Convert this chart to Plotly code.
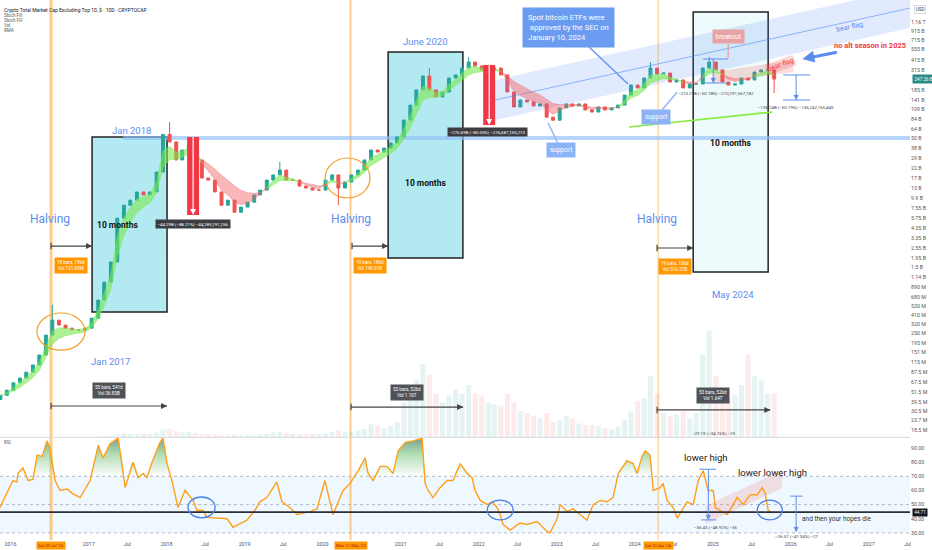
import math
import datetime as dt
import pandas as pd
import plotly.graph_objects as go

FONT = "Roboto, Arial, sans-serif"
BLUE = "#5b8def"

# ---------------- DATA ----------------
# monthly candles (10D bars condensed), Nov 2015 .. Oct 2025, values in billions USD
months = pd.date_range("2015-11-01", periods=120, freq="MS") + pd.Timedelta(days=14)
first_open_b = 0.042
close_2015_2016 = [0.047, 0.054, 0.066, 0.075, 0.088, 0.107, 0.14, 0.24, 0.36, 0.315, 0.29, 0.276, 0.276, 0.29]
close_2017 = [0.38, 0.62, 1.01, 1.74, 5.7, 8.1, 9.3, 11.6, 10.7, 11.6, 19.9, 55]
close_2018 = [45, 27.6, 36.1, 41.4, 27.6, 16.9, 16.0, 11.6, 8.1, 9.3, 6.7, 7.7]
close_2019 = [8.8, 10.7, 12.2, 16.0, 18.4, 21.0, 16.0, 16.0, 13.6, 12.9, 12.2, 12.2]
close_2020 = [16.0, 18.4, 12.9, 15.2, 18.4, 21.0, 27.6, 36.1, 34.2, 38.1, 43.7, 51.4]
close_2021 = [81.4, 122, 184, 268, 184, 152, 174, 254, 276, 333, 392, 352]
close_2022 = [316, 316, 333, 276, 174, 116, 140, 133, 119, 126, 88, 81]
close_2023 = [113, 126, 119, 126, 107, 101, 116, 107, 113, 122, 160, 210]
close_2024 = [194, 254, 333, 283, 291, 228, 241, 194, 216, 216, 333, 392]
close_2025 = [316, 228, 210, 216, 254, 241, 299, 316, 316, 247]
high_override_b = {"2016-07": 0.543, "2018-01": 77, "2019-06": 26.1, "2021-05": 333,
                   "2021-11": 449, "2024-03": 392, "2024-12": 449}
low_override_b = {"2020-03": 8.1, "2025-10": 169}

vol_2015_2016 = [0.1, 0.1, 0.1, 0.2, 0.2, 0.2, 0.3, 0.5, 0.4, 0.3, 0.3, 0.3, 0.3, 0.4]
vol_2017 = [0.6, 0.8, 1.2, 1.8, 3.5, 4.5, 3.5, 3.5, 4.5, 3.5, 5.5, 9]
vol_2018 = [10, 7, 6, 6, 5, 3.5, 3.5, 3, 2.5, 2.5, 3, 2.5]
vol_2019 = [2.5, 2.5, 3, 4, 5.5, 6.5, 5, 4, 3.5, 3.5, 3.5, 3.5]
vol_2020 = [4.5, 6.5, 8.5, 6.5, 6.5, 7.5, 9.5, 15, 13, 10, 13, 17]
vol_2021 = [40, 60, 66, 84, 72, 50, 40, 48, 55, 50, 60, 50]
vol_2022 = [48, 40, 38, 36, 50, 40, 30, 28, 25, 22, 28, 18]
vol_2023 = [20, 25, 22, 16, 14, 14, 13, 11, 10, 12, 20, 30]
vol_2024 = [42, 45, 70, 50, 28, 24, 26, 30, 22, 28, 95, 122]
vol_2025 = [70, 55, 45, 48, 60, 95, 70, 65, 50, 50]

rsi_dates = ["2015-11-13", "2015-12-15",
             "2016-01-12", "2016-01-31", "2016-02-05", "2016-02-28", "2016-03-24", "2016-04-16", "2016-05-05",
             "2016-05-28", "2016-06-20", "2016-07-04", "2016-07-28", "2016-08-20", "2016-09-22", "2016-10-16", "2016-11-22",
             "2017-01-08", "2017-02-15", "2017-03-10", "2017-04-11", "2017-05-19", "2017-06-21", "2017-07-28",
             "2017-08-20", "2017-09-13", "2017-10-01", "2017-10-25", "2017-12-01", "2017-12-15",
             "2018-01-03", "2018-01-26", "2018-02-23", "2018-03-28", "2018-05-05", "2018-05-23", "2018-06-21",
             "2018-07-09", "2018-08-25", "2018-10-11", "2018-11-08",
             "2019-01-12", "2019-02-19", "2019-03-13", "2019-04-15", "2019-06-01", "2019-06-25", "2019-08-01",
             "2019-09-03", "2019-11-03", "2019-12-06",
             "2020-01-12", "2020-02-19", "2020-04-06", "2020-05-09", "2020-06-16", "2020-07-18", "2020-08-01",
             "2020-08-25", "2020-09-27", "2020-10-29", "2020-11-26", "2020-12-20",
             "2021-01-22", "2021-02-28", "2021-04-11", "2021-04-25", "2021-05-09", "2021-06-01", "2021-07-04",
             "2021-08-06", "2021-09-03", "2021-10-06", "2021-11-08", "2021-12-01", "2021-12-15",
             "2022-01-08", "2022-02-10", "2022-03-05", "2022-03-28", "2022-04-11", "2022-04-25", "2022-05-28",
             "2022-07-14", "2022-08-15", "2022-10-01", "2022-11-17", "2022-12-01",
             "2023-01-03", "2023-01-17", "2023-02-19", "2023-03-19", "2023-04-20", "2023-05-23", "2023-06-21",
             "2023-07-23", "2023-08-25", "2023-09-22", "2023-10-16", "2023-11-26", "2023-12-25",
             "2024-01-12", "2024-02-05", "2024-02-19", "2024-03-13", "2024-03-28", "2024-04-29", "2024-05-13",
             "2024-06-01", "2024-06-29", "2024-07-18", "2024-09-03", "2024-10-01", "2024-10-25", "2024-11-17", "2024-12-10",
             "2025-01-03", "2025-01-12", "2025-03-10", "2025-04-25", "2025-05-23", "2025-06-25", "2025-07-28",
             "2025-08-20", "2025-09-03", "2025-09-17", "2025-10-01"]
rsi_vals = [48, 58,
            67, 66, 72, 76, 67, 68, 85, 84, 95, 90, 67, 60, 61, 58, 55,
            67, 92, 83, 93, 97, 62, 80, 69, 72, 69, 80, 94, 97,
            79, 67, 48, 60, 53, 46, 46, 41, 40.5, 40, 34,
            39, 46, 52, 55, 66, 52, 48, 43, 45, 47,
            67, 43, 60, 65, 74, 83, 72, 67, 77, 77, 72, 88,
            94, 95, 97, 65, 60, 55, 62, 67, 67, 79, 72, 69, 60,
            53, 50, 52, 48, 43, 36, 32, 37, 36, 38, 31, 30,
            40, 50, 45, 47, 43, 39, 50, 53, 52, 55, 72, 81, 79,
            72, 84, 88, 85, 60, 62, 65, 53, 48, 40.5, 52, 50, 67, 74, 60,
            60, 48, 43, 55, 50, 57, 57, 62, 58, 46, 44.7]
rsi_last = 44.7

price_tick_text = ["1.16 T", "915 B", "715 B", "555 B", "415 B", "315 B", "185 B", "141 B", "109 B",
                   "84 B", "64 B", "50 B", "38 B", "29 B", "22 B", "17 B", "13 B", "9.9 B", "7.55 B", "5.75 B",
                   "4.35 B", "3.35 B", "2.55 B", "1.95 B", "1.5 B", "1.14 B", "890 M", "680 M", "530 M", "410 M",
                   "320 M", "250 M", "195 M", "151 M", "115 M", "87.5 M", "67.5 M", "51.5 M", "39.5 M", "30.5 M",
                   "23.7 M", "18.5 M"]
price_tick_vals = [1.16e12, 915e9, 715e9, 555e9, 415e9, 315e9, 185e9, 141e9, 109e9,
                   84e9, 64e9, 50e9, 38e9, 29e9, 22e9, 17e9, 13e9, 9.9e9, 7.55e9, 5.75e9,
                   4.35e9, 3.35e9, 2.55e9, 1.95e9, 1.5e9, 1.14e9, 890e6, 680e6, 530e6, 410e6,
                   320e6, 250e6, 195e6, 151e6, 115e6, 87.5e6, 67.5e6, 51.5e6, 39.5e6, 30.5e6,
                   23.7e6, 18.5e6]
rsi_tick_vals = [30, 40, 50, 60, 70, 80, 90]
rsi_tick_text = ["30.00", "40.00", "50.00", "60.00", "70.00", "80.00", "90.00"]

x_tick_dates = ["2016-01-01", "2017-01-01", "2017-07-01", "2018-01-01", "2018-07-01", "2019-01-01",
                "2019-07-01", "2020-01-01", "2021-01-01", "2021-07-01", "2022-01-01", "2022-07-01",
                "2023-01-01", "2023-07-01", "2024-01-01", "2024-07-01", "2025-01-01", "2025-07-01",
                "2026-01-01", "2026-07-01", "2027-01-01", "2027-07-01"]
x_tick_text = ["2016", "2017", "Jul", "2018", "Jul", "2019", "Jul", "2020", "2021", "Jul", "2022", "Jul",
               "2023", "Jul", "2024", "Jul", "2025", "Jul", "2026", "Jul", "2027", "Jul"]

halving_dates = ["2016-07-09", "2020-05-11", "2024-04-20"]
halving_text = ["Sat 09 Jul '16", "Mon 11 May '20", "Sat 20 Apr '24"]

# ---------------- helpers ----------------
def yr(f):
    y = int(f)
    a = dt.datetime(y, 1, 1)
    b = dt.datetime(y + 1, 1, 1)
    return (a + (b - a) * (f - y)).strftime("%Y-%m-%d")

L = math.log10
B = 1e9

close_b = (close_2015_2016 + close_2017 + close_2018 + close_2019 + close_2020 + close_2021
           + close_2022 + close_2023 + close_2024 + close_2025)
vol_b = (vol_2015_2016 + vol_2017 + vol_2018 + vol_2019 + vol_2020 + vol_2021
         + vol_2022 + vol_2023 + vol_2024 + vol_2025)
close = [c * B for c in close_b]
opens = [first_open_b * B] + close[:-1]
keys = [m.strftime("%Y-%m") for m in months]
highs = [max(o, c) for o, c in zip(opens, close)]
lows = [min(o, c) for o, c in zip(opens, close)]
for i, k in enumerate(keys):
    if k in high_override_b:
        highs[i] = high_override_b[k] * B
    if k in low_override_b:
        lows[i] = low_override_b[k] * B

X_RANGE = ["2015-11-13", "2027-07-13"]
Y_RANGE = [7.177, 12.3226]

fig = go.Figure()

# rising channel (drawn) and bear-flag band
fig.add_trace(go.Scatter(x=[yr(2022.212), yr(2027.533), yr(2027.533), yr(2022.212)],
                         y=[81.4e9, 985e9, 2.91e12, 241e9], fill="toself", mode="lines",
                         fillcolor="rgba(66,133,244,0.16)", line=dict(width=0), xaxis="x", yaxis="y"))
fig.add_trace(go.Scatter(x=[yr(2022.212), yr(2027.533)], y=[140e9, 1.69e12], mode="lines",
                         line=dict(color="rgba(66,133,244,0.55)", width=1), xaxis="x", yaxis="y"))
fig.add_trace(go.Scatter(x=[yr(2025.007), yr(2026.033), yr(2026.033), yr(2025.007)],
                         y=[222e9, 299e9, 414e9, 299e9], fill="toself", mode="lines",
                         fillcolor="rgba(239,83,80,0.2)", line=dict(width=0), xaxis="x", yaxis="y"))

# volume
vol_colors = ["rgba(38,166,154,0.12)" if c >= o else "rgba(239,83,80,0.12)" for o, c in zip(opens, close)]
fig.add_trace(go.Bar(x=months, y=vol_b, marker=dict(color=vol_colors, line=dict(width=0)),
                     xaxis="x", yaxis="y3"))

# EMA ribbon
cs = pd.Series(close)
ema_f = cs.ewm(span=3, adjust=False).mean().tolist()
ema_s = cs.ewm(span=7, adjust=False).mean().tolist()
bull = [f >= s for f, s in zip(ema_f, ema_s)]
n = len(bull)
i = 0
while i < n:
    j = i
    while j + 1 < n and bull[j + 1] == bull[i]:
        j += 1
    end = min(j + 1, n - 1)
    idx = list(range(i, end + 1))
    col = "rgba(120,232,80,0.6)" if bull[i] else "rgba(242,95,100,0.45)"
    xs = [months[k] for k in idx]
    fig.add_trace(go.Scatter(x=xs, y=[ema_s[k] for k in idx], mode="lines",
                             line=dict(width=0.8, color=col), xaxis="x", yaxis="y"))
    fig.add_trace(go.Scatter(x=xs, y=[ema_f[k] for k in idx], mode="lines", fill="tonexty",
                             fillcolor=col, line=dict(width=0.8, color=col), xaxis="x", yaxis="y"))
    i = j + 1

# candles
fig.add_trace(go.Candlestick(x=months, open=opens, high=highs, low=lows, close=close,
                             increasing=dict(line=dict(color="#26a69a", width=1), fillcolor="#26a69a"),
                             decreasing=dict(line=dict(color="#ef5350", width=1), fillcolor="#ef5350"),
                             whiskerwidth=0, xaxis="x", yaxis="y"))

# green support line
fig.add_trace(go.Scatter(x=[yr(2023.93), yr(2025.764)], y=[67.4e9, 101e9], mode="lines",
                         line=dict(color="#86ec3f", width=1.6), xaxis="x", yaxis="y"))

# ---------------- RSI pane ----------------
fig.add_trace(go.Scatter(x=[yr(2024.905), yr(2025.892), yr(2025.892), yr(2024.905)],
                         y=[36.3, 61.7, 74.4, 49], fill="toself", mode="lines",
                         fillcolor="rgba(239,83,80,0.16)", line=dict(width=0), xaxis="x2", yaxis="y2"))
fig.add_trace(go.Scatter(x=rsi_dates, y=[70] * len(rsi_vals), mode="lines", line=dict(width=0),
                         xaxis="x2", yaxis="y2"))
fig.add_trace(go.Scatter(x=rsi_dates, y=[max(v, 70) for v in rsi_vals], mode="lines", fill="tonexty",
                         fillgradient=dict(type="vertical", start=70, stop=97,
                                           colorscale=[[0, "rgba(76,175,80,0)"], [0.6, "rgba(76,175,80,0.45)"],
                                                       [1, "rgba(80,120,110,0.75)"]]),
                         line=dict(width=0), xaxis="x2", yaxis="y2"))
fig.add_trace(go.Scatter(x=rsi_dates, y=rsi_vals, mode="lines", line=dict(color="#ff9f1a", width=1.4),
                         xaxis="x2", yaxis="y2"))

fig.update_traces(hoverinfo="skip", showlegend=False)

# ---------------- shapes ----------------
shapes = []
def line(x0, y0, x1, y1, color="#333", width=1.2, xref="x", yref="y", dash="solid", layer="above"):
    shapes.append(dict(type="line", x0=x0, y0=y0, x1=x1, y1=y1, xref=xref, yref=yref,
                       line=dict(color=color, width=width, dash=dash), layer=layer))

def rect(x0, y0, x1, y1, fill, lc="#222", lw=1.5, xref="x", yref="y", layer="below"):
    shapes.append(dict(type="rect", x0=x0, y0=y0, x1=x1, y1=y1, xref=xref, yref=yref,
                       fillcolor=fill, line=dict(color=lc, width=lw), layer=layer))

# RSI background band & levels
rect(0, 30, 1, 70, "rgba(33,150,243,0.07)", lw=0, xref="paper", yref="y2")
for lv in (70, 50, 30):
    line(0, lv, 1, lv, color="#b0b8c8", width=1, xref="paper", yref="y2", dash="dot", layer="below")
line(0, rsi_last, 1, rsi_last, color="#2a2e39", width=1.8, xref="paper", yref="y2")
# pane separator
line(0, 0.19, 1, 0.19, color="#d6d9e0", width=1, xref="paper", yref="paper")

# halving lines
for hd, w in zip(halving_dates, (3, 2, 1.2)):
    line(hd, 0, hd, 1, color="rgba(255,170,60,0.6)", width=w, yref="paper", layer="below")

# 10-month boxes
rect(yr(2017.046), 0.449e9, yr(2018.007), 51.4e9, "#b3eaf1")
rect(yr(2020.84), 1.94e9, yr(2021.80), 514e9, "#b3eaf1")
rect(yr(2024.75), 1.33e9, yr(2025.71), 1.52e12, "rgba(178,235,242,0.22)")

# 50B horizontal
line(yr(2017.443), 50e9, yr(2027.6), 50e9, color="rgba(144,190,249,0.65)", width=4, layer="below")

# red drop arrows
for x0, x1, y0, y1 in ((2018.264, 2018.417, 6.21e9, 51.4e9), (2022.058, 2022.212, 71e9, 362e9)):
    rect(yr(x0), y0, yr(x1), y1, "#f23645", lw=0, layer="above")
    line(yr((x0 + x1) / 2), y0 * 1.08, yr((x0 + x1) / 2), y1, color="white", width=1.2)

# measurement lines (bars / days)
meas = [(2016.52, 2017.046, 2.68e9), (2020.379, 2020.84, 2.68e9), (2024.289, 2024.751, 2.54e9),
        (2016.52, 2018.007, 35.2e6), (2020.366, 2021.802, 34.2e6), (2024.289, 2025.738, 31.6e6)]
for a, b, v in meas:
    line(yr(a), v, yr(b), v, color="#444", width=1.2)
    line(yr(a), v / 1.09, yr(a), v * 1.09, color="#444", width=1.2)

# blue price-range brackets
line(yr(2025.904), 276e9, yr(2026.25), 276e9, color=BLUE, width=1)
line(yr(2026.071), 276e9, yr(2026.071), 142e9, color=BLUE, width=1)
line(yr(2025.904), 140e9, yr(2026.25), 140e9, color=BLUE, width=1)
line(yr(2024.879), 425e9, yr(2025.199), 425e9, color=BLUE, width=1)
line(yr(2025.007), 425e9, yr(2025.007), 225e9, color=BLUE, width=1)
line(yr(2024.879), 222e9, yr(2025.199), 222e9, color=BLUE, width=1)

# RSI brackets
line(yr(2024.827), 75, yr(2025.046), 75, color=BLUE, width=1, xref="x2", yref="y2")
line(yr(2024.943), 75, yr(2024.943), 39.6, color=BLUE, width=1, xref="x2", yref="y2")
line(yr(2024.853), 39.2, yr(2025.046), 39.2, color=BLUE, width=1, xref="x2", yref="y2")
line(yr(2025.994), 56, yr(2026.148), 56, color=BLUE, width=1, xref="x2", yref="y2")
line(yr(2026.071), 56, yr(2026.071), 31, color=BLUE, width=1, xref="x2", yref="y2")

# circles
shapes.append(dict(type="circle", xref="x", yref="y", x0=yr(2016.34), x1=yr(2016.956), y0=160e6, y1=437e6,
                   line=dict(color="#f39c27", width=1.2)))
shapes.append(dict(type="circle", xref="x", yref="y", x0=yr(2020.033), x1=yr(2020.609), y0=9.85e9, y1=29.1e9,
                   line=dict(color="#f39c27", width=1.2)))
for a, b, lo, hi in ((2018.276, 2018.623, 40.6, 55.4), (2022.11, 2022.443, 39.2, 53.2), (2025.571, 2025.892, 39.2, 53.2)):
    shapes.append(dict(type="circle", xref="x2", yref="y2", x0=yr(a), x1=yr(b), y0=lo, y1=hi,
                       line=dict(color="#4a80e8", width=1.3)))

# ---------------- annotations ----------------
ann = []
def text(x, y, t, size=6, color="#131722", xref="x", yref="y", **kw):
    d = dict(x=x, y=y, xref=xref, yref=yref, text=t, showarrow=False,
             font=dict(size=size, color=color, family=FONT))
    d.update(kw)
    ann.append(d)

def arrow(x, y, ax, ay, color="#444", width=1.2, head=2, size=1, xref="x", yref="y"):
    ann.append(dict(x=x, y=y, xref=xref, yref=yref, text="", showarrow=True, ax=ax, ay=ay,
                    arrowhead=head, arrowsize=size, arrowwidth=width, arrowcolor=color))

# header
text(0.002, 1 - 5 / 540, "Crypto Total Market Cap Excluding Top 10, $ · 10D · CRYPTOCAP", size=5,
     xref="paper", yref="paper", xanchor="left")
for k, t in enumerate(["Stoch Fill", "Stoch Fill", "Vol", "RMA"]):
    text(0.002, 1 - (10.5 + 5.2 * k) / 540, t, size=4.5, color="#555", xref="paper", yref="paper", xanchor="left")
text(0.002, 94, "RSI", size=4.5, color="#555", xref="paper", yref="y2", xanchor="left")

# blue labels
for hx in (2016.507, 2020.366, 2024.289):
    text(yr(hx), L(5.58e9), "Halving", size=12, color=BLUE)
text(yr(2017.546), L(62.1e9), "Jan 2018", size=9.5, color=BLUE)
text(yr(2017.276), L(116e6), "Jan 2017", size=9.5, color=BLUE)
text(yr(2021.315), L(674e9), "June 2020", size=9.5, color=BLUE)
text(yr(2025.264), L(731e6), "May 2024", size=9.5, color=BLUE)

for x, v in ((2017.366, 4.74e9), (2021.315, 14.8e9), (2025.225, 43.7e9)):
    text(yr(x), L(v), "<b>10 months</b>", size=8.5, color="#111")

# measurement arrowheads + labels
for a, b, v in meas:
    arrow(yr(b), L(v), -7, 0, color="#444")
for x, v, t in ((2016.776, 1.6e9, "19 bars, 186d<br>Vol 121.09M"),
                (2020.61, 1.6e9, "19 bars, 186d<br>Vol 140.61B"),
                (2024.52, 1.55e9, "19 bars, 186d<br>Vol 516.51B")):
    text(yr(x), L(v), t, size=4.6, color="white", bgcolor="#ff9800", borderpad=2)
for x, v, t in ((2017.264, 54e6, "55 bars, 541d<br>Vol 36.83B"),
                (2021.084, 51.4e6, "53 bars, 526d<br>Vol 1.16T"),
                (2025.007, 47.3e6, "53 bars, 526d<br>Vol 1.64T")):
    text(yr(x), L(v), t, size=4.6, color="white", bgcolor="#4f5257", borderpad=2)

# red drops
for x0, x1, y0 in ((2018.264, 2018.417, 6.21e9), (2022.058, 2022.212, 71e9)):
    arrow(yr((x0 + x1) / 2), L(y0), 0, -7, color="white", width=1.2)
text(yr(2018.34), L(4.87e9), "−44.29B (−88.21%) −44,289,291,256", size=4.4, color="white",
     bgcolor="#3b3d42", borderpad=1.5)
text(yr(2022.12), L(58.8e9), "−276.69B (−80.05%) −276,687,255,273", size=4.4, color="white",
     bgcolor="#3b3d42", borderpad=1.5)

# callouts
ann.append(dict(x=yr(2023.917), y=L(216e9), xref="x", yref="y", showarrow=True, ax=-60, ay=-57,
                arrowhead=0, arrowwidth=1.6, arrowcolor="#6a9cf2",
                text="Spot bitcoin ETFs were<br> approved by the SEC on<br>January 10, 2024",
                align="left", bgcolor="#6a9cf2", borderpad=5,
                font=dict(size=7.5, color="white", family=FONT)))
ann.append(dict(x=yr(2022.892), y=L(75e9), xref="x", yref="y", showarrow=True, ax=13, ay=27,
                arrowhead=0, arrowwidth=1.4, arrowcolor="#8db3f7", text="support", bgcolor="#8db3f7",
                borderpad=3, font=dict(size=6.5, color="white", family=FONT)))
ann.append(dict(x=yr(2024.546), y=L(174e9), xref="x", yref="y", showarrow=True, ax=-21, ay=25,
                arrowhead=0, arrowwidth=1.4, arrowcolor="#8db3f7", text="support", bgcolor="#8db3f7",
                borderpad=3, font=dict(size=6.5, color="white", family=FONT)))
ann.append(dict(x=yr(2025.199), y=L(437e9), xref="x", yref="y", showarrow=True, ax=0, ay=-21,
                arrowhead=0, arrowwidth=1.4, arrowcolor="#e7a3a6", text="breakout", bgcolor="#e7a3a6",
                borderpad=2.5, font=dict(size=6.5, color="white", family=FONT)))

text(yr(2025.866), L(362e9), "bear flag", size=7, color="#f23645", textangle=-20,
     bgcolor="rgba(239,83,80,0.22)", borderpad=1)
text(yr(2026.76), L(1.01e12), "bear flag", size=7, color=BLUE, textangle=-12)
text(yr(2027.02), L(605e9), "<b>no alt season in 2025</b>", size=7.5, color="#f23645")
arrow(yr(2026.148), L(425e9), 36, -7, color=BLUE, width=3, head=2, size=0.8)

arrow(yr(2026.071), L(140e9), 0, -7, color=BLUE, width=1)
arrow(yr(2025.007), L(222e9), 0, -7, color=BLUE, width=1)
text(yr(2026.071), L(113e9), "−136.24B (−50.79%) −136,242,165,445", size=4.4, color="#444")
text(yr(2025.046), L(169e9), "−210.29B (−50.78%) −210,291,567,182", size=4.4, color="#444")
text(yr(2025.007), L(16.9e6), "−29.19 (−34.76%) −29", size=4.4, color="#444")

# RSI annotations
arrow(yr(2024.943), 39.2, 0, -7, color=BLUE, width=1, xref="x2", yref="y2")
arrow(yr(2026.071), 30.7, 0, -7, color=BLUE, width=1, xref="x2", yref="y2")
text(yr(2024.917), 83.5, "lower high", size=9.5, color="#222", xref="x2", yref="y2")
text(yr(2025.764), 73, "lower lower high", size=9.5, color="#222", xref="x2", yref="y2")
text(yr(2026.584), 39.9, "and then your hopes die", size=6.5, color="#333", xref="x2", yref="y2")
text(yr(2025.033), 33.5, "−36.43 (−48.92%) −36", size=4.4, color="#444", xref="x2", yref="y2")
text(yr(2026.071), 27.2, "−26.57 (−47.34%) −27", size=4.4, color="#444", xref="x2", yref="y2")

# axis badges
for hd, t in zip(halving_dates, halving_text):
    text(hd, -10 / 540, t, size=4.2, color="#b71c1c", yref="paper", bgcolor="#ff9800", borderpad=1)
text(1 + 4 / 910, 1 - 5 / 540, "USD", size=4.6, color="#333", xref="paper", yref="paper", xanchor="left",
     bordercolor="#cfd3da", borderwidth=0.8, borderpad=1, bgcolor="white")
text(1.002, L(247e9), "247.26 B", size=4.6, color="white", xref="paper", yref="y", xanchor="left",
     bgcolor="#2a8a83", borderpad=1.5)
text(1.002, rsi_last, "44.71", size=4.6, color="white", xref="paper", yref="y2", xanchor="left",
     bgcolor="#131722", borderpad=1.2)

# ---------------- layout ----------------
tickfont = dict(size=5.3, color="#555", family=FONT)
fig.update_layout(
    width=932, height=550, margin=dict(l=0, r=22, t=0, b=10, autoexpand=False),
    paper_bgcolor="white", plot_bgcolor="white", showlegend=False,
    font=dict(family=FONT, size=6, color="#333"), bargap=0.15,
    xaxis=dict(domain=[0, 1], anchor="y", range=X_RANGE, type="date", showticklabels=False,
               showgrid=False, zeroline=False, rangeslider=dict(visible=False), showline=False,
               automargin=False),
    xaxis2=dict(domain=[0, 1], anchor="y2", range=X_RANGE, type="date", matches="x",
                tickvals=x_tick_dates, ticktext=x_tick_text, tickfont=tickfont, ticks="",
                showgrid=False, zeroline=False, showline=False, rangeslider=dict(visible=False),
                automargin=False),
    yaxis=dict(domain=[0.19, 1], anchor="x", type="log", range=Y_RANGE, side="right",
               tickvals=price_tick_vals, ticktext=price_tick_text, tickfont=tickfont, ticks="",
               showgrid=False, zeroline=False, showline=False, automargin=False),
    yaxis2=dict(domain=[0, 0.19], anchor="x2", range=[25, 97.5], side="right",
                tickvals=rsi_tick_vals, ticktext=rsi_tick_text, tickfont=tickfont, ticks="",
                showgrid=False, zeroline=False, showline=False, automargin=False),
    yaxis3=dict(overlaying="y", anchor="x", range=[0, 500], visible=False, showgrid=False),
    shapes=shapes, annotations=ann,
)

fig.write_html("out.html", config={"displayModeBar": False},
               post_script="document.body.style.margin='0';document.body.style.padding='0';")
